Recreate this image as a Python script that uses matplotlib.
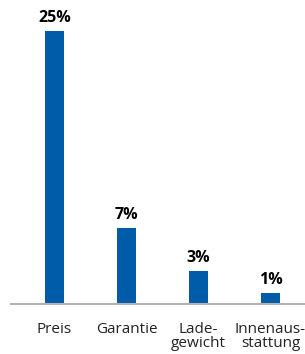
import matplotlib.pyplot as plt

categories = ["Preis", "Garantie", "Lade-\ngewicht", "Innenaus-\nstattung"]
values = [25, 7, 3, 1]
value_labels = ["25%", "7%", "3%", "1%"]

W, H = 305, 354
fig = plt.figure(figsize=(W / 100, H / 100), dpi=100)
ax = fig.add_axes([11 / W, 1 - 304 / H, 1 - 11 / W, (304 - 31) / H])

x = list(range(len(values)))
ax.bar(x, values, width=0.264, color="#005ca8", zorder=2)
ax.set_xlim(-0.604, 3.479)
ax.set_ylim(0, 25)

for xi, v, lab in zip(x, values, value_labels):
    ax.annotate(lab, (xi, v), xytext=(0, 3.5), textcoords="offset points",
                ha="center", va="bottom", fontsize=11.5, fontweight="bold",
                family="Open Sans", color="black", clip_on=False)

for xi, c in zip(x, categories):
    ax.annotate(c, (xi, 0), xytext=(0, -13), textcoords="offset points",
                ha="center", va="top", fontsize=11, family="Open Sans",
                color="#222222", linespacing=0.9, annotation_clip=False)

for s in ["top", "right", "left"]:
    ax.spines[s].set_visible(False)
ax.spines["bottom"].set_color("#b3b3b3")
ax.spines["bottom"].set_linewidth(1.5)
ax.set_xticks([])
ax.set_yticks([])

fig.savefig("out.png", dpi=100)
